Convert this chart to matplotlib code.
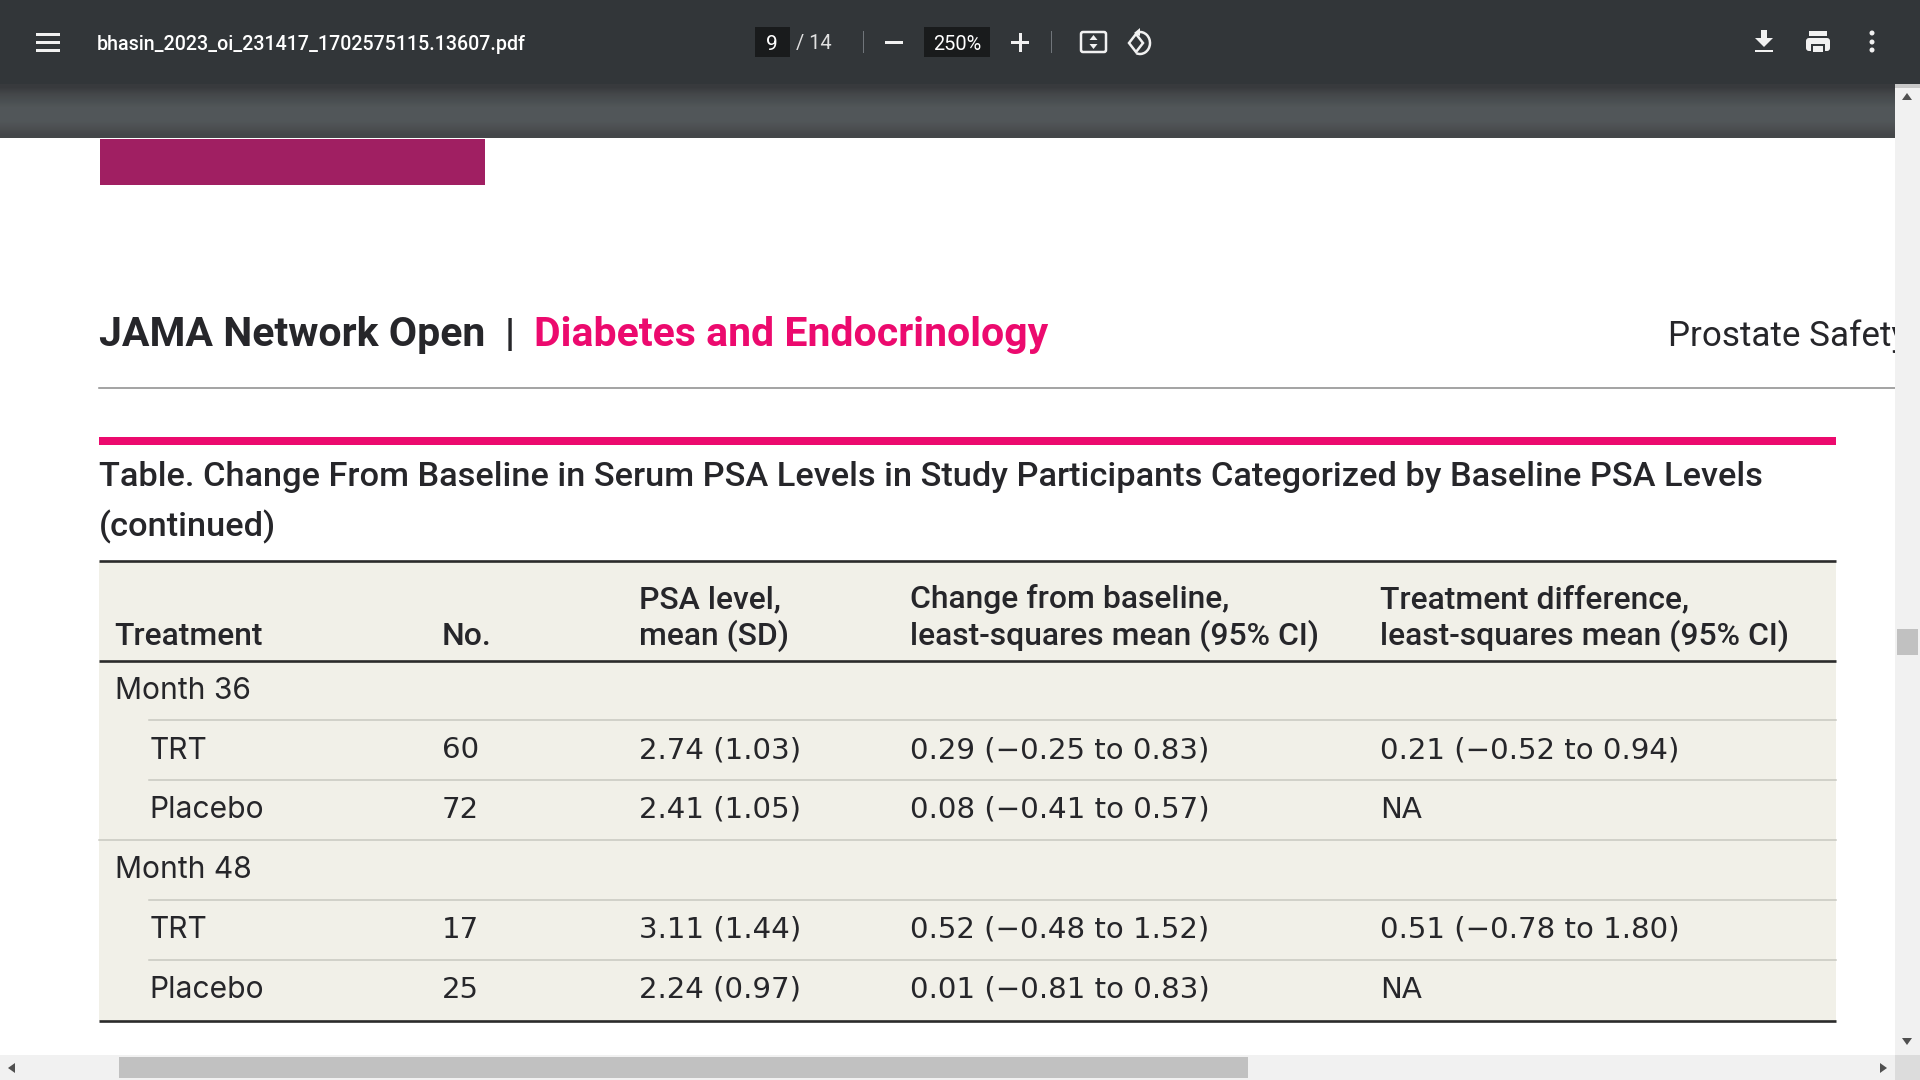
"""PDF viewer screenshot: JAMA Network Open table of PSA change from baseline."""
import numpy as np
import matplotlib
matplotlib.use("Agg")
import matplotlib.pyplot as plt
from matplotlib.patches import Rectangle, FancyBboxPatch, Polygon, Arc

FILE_NAME = "bhasin_2023_oi_231417_1702575115.13607.pdf"
PAGE_NO = "9"
PAGE_TOTAL = "/ 14"
ZOOM = "250%"
JOURNAL = "JAMA Network Open"
SECTION = "Diabetes and Endocrinology"
RUNNING = "Prostate Safety"
TITLE = ["Table. Change From Baseline in Serum PSA Levels in Study Participants Categorized by Baseline PSA Levels",
         "(continued)"]

headers = [["Treatment"], ["No."], ["PSA level,", "mean (SD)"],
           ["Change from baseline,", "least-squares mean (95% CI)"],
           ["Treatment difference,", "least-squares mean (95% CI)"]]
treatment = ["Month 36", "TRT", "Placebo", "Month 48", "TRT", "Placebo"]
counts = ["", "60", "72", "", "17", "25"]
psa_level = ["", "2.74 (1.03)", "2.41 (1.05)", "", "3.11 (1.44)", "2.24 (0.97)"]
change = ["", "0.29 (−0.25 to 0.83)", "0.08 (−0.41 to 0.57)", "",
          "0.52 (−0.48 to 1.52)", "0.01 (−0.81 to 0.83)"]
difference = ["", "0.21 (−0.52 to 0.94)", "NA", "", "0.51 (−0.78 to 1.80)", "NA"]

BODY = "Inter"
HEAD = "Roboto"
NUMS = "DejaVu Sans"
INK = "#26262a"
PINK = "#ec0a6e"

fig = plt.figure(figsize=(19.2, 10.8), dpi=100)
ax = fig.add_axes([0, 0, 1, 1])
ax.set_axis_off()


def px(size):
    return size * 0.72


def rect(x0, y0, x1, y1, color, z=1):
    ax.add_patch(Rectangle((x0, y0), x1 - x0, y1 - y0, fc=color, ec="none", zorder=z))


# viewer chrome
rect(0, 0, 1920, 84, "#323639", 5)
band = np.array([[[0.22, 0.23, 0.24]], [[0.27, 0.28, 0.29]], [[0.29, 0.31, 0.32]],
                 [[0.32, 0.34, 0.35]], [[0.32, 0.34, 0.35]], [[0.32, 0.34, 0.35]],
                 [[0.30, 0.31, 0.32]], [[0.27, 0.28, 0.29]]])
ax.imshow(band, extent=(0, 1920, 138, 84), aspect="auto", interpolation="bilinear", zorder=2)

for y in (34, 42, 50):
    rect(36, y - 1.5, 60, y + 1.5, "#f1f1f1", 6)
ax.text(97, 44, FILE_NAME, color="white", fontsize=px(19.6), family="Roboto", weight="medium", va="center", zorder=6)
rect(755, 27, 790, 57, "#191b1c", 6)
ax.text(772, 44, PAGE_NO, color="white", fontsize=px(21), family="Roboto", ha="center", va="center", zorder=7)
ax.text(796, 44, PAGE_TOTAL, color="#e0e0e0", fontsize=px(20), family="Roboto", va="center", zorder=7)
rect(862.5, 31, 863.5, 53, "#70757a", 6)
rect(885, 41, 903, 44, "#f1f1f1", 6)
rect(924, 27, 990, 57, "#191b1c", 6)
ax.text(957, 44, ZOOM, color="white", fontsize=px(20), family="Roboto", ha="center", va="center", zorder=7)
rect(1011, 41, 1029, 44, "#f1f1f1", 6)
rect(1018.5, 33, 1021.5, 52, "#f1f1f1", 6)
rect(1050.5, 31, 1051.5, 53, "#70757a", 6)
ax.add_patch(FancyBboxPatch((1081, 32), 25, 20, boxstyle="round,pad=0,rounding_size=2",
                            fc="none", ec="#f1f1f1", lw=1.8, zorder=6))
ax.add_patch(Polygon([[1093.5, 35], [1089.5, 40], [1097.5, 40]], fc="#f1f1f1", ec="none", zorder=6))
ax.add_patch(Polygon([[1093.5, 49], [1089.5, 44], [1097.5, 44]], fc="#f1f1f1", ec="none", zorder=6))
ax.add_patch(Polygon([[1136, 34], [1143, 43], [1136, 52], [1129, 43]], fc="none", ec="#f1f1f1", lw=1.8, zorder=6))
ax.add_patch(Arc((1140, 43), 20, 22, theta1=-100, theta2=110, ec="#f1f1f1", lw=1.8, zorder=6))
ax.add_patch(Polygon([[1140, 28], [1140, 36], [1134, 33]], fc="#f1f1f1", ec="none", zorder=6))
# download
rect(1761, 30, 1767, 39, "#f1f1f1", 6)
ax.add_patch(Polygon([[1755, 38], [1773, 38], [1764, 47]], fc="#f1f1f1", ec="none", zorder=6))
rect(1755, 49.5, 1773, 52, "#f1f1f1", 6)
# print
rect(1809, 31, 1827, 36, "#f1f1f1", 6)
ax.add_patch(FancyBboxPatch((1806, 38), 24, 13, boxstyle="round,pad=0,rounding_size=3", fc="#f1f1f1", ec="none", zorder=6))
rect(1811, 44, 1825, 53, "#323639", 7)
rect(1813, 46, 1823, 52, "#f1f1f1", 8)
for y in (33, 42, 50):
    ax.add_patch(plt.Circle((1872, y), 2.5, fc="#f1f1f1", ec="none", zorder=6))

# page
rect(99.5, 139, 485, 185, "#a01f62")
ax.text(99, 346, JOURNAL, color=INK, fontsize=px(41), family=HEAD, weight="bold", va="baseline")
ax.text(505, 346, "|", color=INK, fontsize=px(39), family=HEAD, weight="bold", va="baseline")
ax.text(534, 346, SECTION, color=PINK, fontsize=px(41), family=HEAD, weight="bold", va="baseline")
ax.text(1668, 346, RUNNING, color=INK, fontsize=px(35), family=HEAD, va="baseline")
ax.plot([99, 1895], [388, 388], color="#8a8a8a", lw=1.1)
rect(99, 437, 1836, 445, PINK)
ax.text(99, 486, TITLE[0], color=INK, fontsize=px(34.4), family=HEAD, weight="medium", va="baseline")
ax.text(99, 536, TITLE[1], color=INK, fontsize=px(34.4), family=HEAD, weight="medium", va="baseline")

# table
rect(99, 561, 1836, 1021, "#f1f0e8")
for y in (561, 661, 1021):
    ax.plot([99, 1836], [y, y], color="#2b2b2b", lw=1.9, solid_capstyle="butt", zorder=3)
row_y = np.array([699, 759, 818, 878, 938, 998])
col_x = [442, 639, 910, 1380]

ax.plot([149, 1836], [720, 720], color="#c8c8c0", lw=1.1, zorder=2)
ax.plot([149, 1836], [780, 780], color="#c8c8c0", lw=1.1, zorder=2)
ax.plot([99, 1836], [840, 840], color="#c8c8c0", lw=1.1, zorder=2)
ax.plot([149, 1836], [900, 900], color="#c8c8c0", lw=1.1, zorder=2)
ax.plot([149, 1836], [960, 960], color="#c8c8c0", lw=1.1, zorder=2)

for x, lines in zip([114.5] + col_x, headers):
    for i, line in enumerate(reversed(lines)):
        ax.text(x, 645 - 37 * i, line, color=INK, fontsize=px(31.9), family=HEAD,
                weight="medium", va="baseline", zorder=4)

for i, y in enumerate(row_y):
    indent = 149.5 if counts[i] else 115
    ax.text(indent, y, treatment[i], color=INK, fontsize=px(30), family=BODY, va="baseline", zorder=4)
    for x, col in zip(col_x, (counts, psa_level, change, difference)):
        ax.text(x, y - 0.5, col[i], color=INK, fontsize=px(29.3), family=NUMS, va="baseline", zorder=4)

# scrollbars, drawn over the page so the running head is cut at the edge
rect(1895, 84, 1920, 1080, "#f1f1f1", 4)
rect(0, 1055, 1920, 1080, "#f1f1f1", 4)
rect(1895, 1055, 1920, 1080, "#dcdcdc", 5)
rect(1897, 629, 1918, 655, "#c1c1c1", 5)
rect(119, 1057, 1248, 1078, "#c1c1c1", 5)
ax.add_patch(Polygon([[1907, 93], [1902, 100], [1912, 100]], fc="#505050", ec="none", zorder=6))
ax.add_patch(Polygon([[1907, 1045], [1902, 1038], [1912, 1038]], fc="#505050", ec="none", zorder=6))
ax.add_patch(Polygon([[8, 1068], [15, 1063], [15, 1073]], fc="#505050", ec="none", zorder=6))
ax.add_patch(Polygon([[1887, 1068], [1880, 1063], [1880, 1073]], fc="#505050", ec="none", zorder=6))
rect(1895, 84, 1920, 88, "#c8c8c8", 5)

ax.set_xlim(0, 1920)
ax.set_ylim(1080, 0)
fig.savefig("out.png", dpi=100)
